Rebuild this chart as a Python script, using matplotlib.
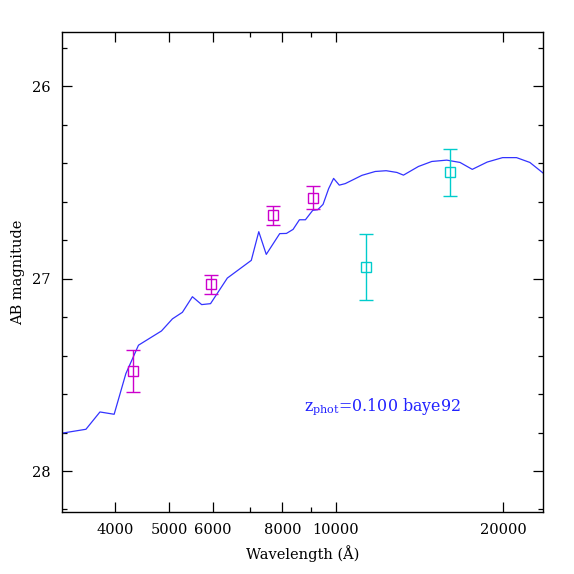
import numpy as np
import matplotlib
matplotlib.use('Agg')
import matplotlib.pyplot as plt
from matplotlib.ticker import FixedLocator

plt.rcParams['mathtext.fontset'] = 'dejavuserif'

# model spectrum (blue line)
model_wl = [3100, 3540, 3752, 3980, 4178, 4403, 4844, 5070, 5284, 5508, 5724,
            5939, 6368, 7034, 7256, 7485, 7915, 8139, 8367, 8590, 8807, 9078,
            9266, 9476, 9699, 9900, 10137, 10392, 11138, 11768, 12316, 12875,
            13232, 14081, 14884, 15837, 16734, 17608, 18737, 19971, 21161,
            22365, 23626, 24500]
model_mag = [27.81, 27.783, 27.693, 27.705, 27.494, 27.346, 27.272, 27.209,
             27.175, 27.094, 27.135, 27.130, 26.997, 26.905, 26.756, 26.874,
             26.766, 26.765, 26.744, 26.694, 26.694, 26.645, 26.642, 26.614,
             26.532, 26.479, 26.514, 26.506, 26.463, 26.443, 26.439, 26.448,
             26.462, 26.417, 26.391, 26.384, 26.396, 26.432, 26.394, 26.371,
             26.371, 26.396, 26.451, 26.50]

# observed photometry
opt_wl = [4310, 5944, 7689, 9091]
opt_mag = [27.48, 27.03, 26.67, 26.58]
opt_err = [0.11, 0.05, 0.05, 0.06]

nir_wl = [11339, 16080]
nir_mag = [26.94, 26.448]
nir_err = [0.17, 0.12]

xticks = [4000, 5000, 6000, 8000, 10000, 20000]
xminor = [7000, 9000]

FONT = 'DejaVu Serif'

fig = plt.figure(figsize=(5.74, 5.74), dpi=100)
ax = fig.add_axes([62 / 574, 1 - 512 / 574, 481 / 574, 480 / 574])

ax.plot(model_wl, model_mag, '-', color='#3333ff', lw=0.9)
ax.errorbar(opt_wl, opt_mag, yerr=opt_err, fmt='s', mfc='none', mec='#cc00cc',
            ecolor='#cc00cc', ms=6.5, mew=1.0, elinewidth=1.0, capsize=4.7, capthick=1.0)
ax.errorbar(nir_wl, nir_mag, yerr=nir_err, fmt='s', mfc='none', mec='#00cccc',
            ecolor='#00cccc', ms=6.5, mew=1.0, elinewidth=1.0, capsize=4.7, capthick=1.0)

ax.set_xscale('log')
ax.set_xlim(3205, 23620)
ax.set_ylim(28.213, 25.718)

ax.set_xticks(xticks)
ax.set_xticklabels([str(v) for v in xticks])
ax.xaxis.set_minor_locator(FixedLocator(xminor))

ax.set_yticks([26, 27, 28])
ax.set_yticklabels(['26', '27', '28'])
ax.yaxis.set_minor_locator(FixedLocator(np.arange(25.8, 28.21, 0.2)))

ax.tick_params(which='both', direction='in', top=True, right=True, width=0.9,
               labelsize=10.5, pad=8)
ax.tick_params(which='major', length=7.2)
ax.tick_params(which='minor', length=3.6)
for lab in ax.get_xticklabels() + ax.get_yticklabels():
    lab.set_family(FONT)
for s in ax.spines.values():
    s.set_linewidth(1.0)

ax.set_xlabel('Wavelength (Å)', family=FONT, fontsize=10.5, labelpad=6)
ax.set_ylabel('AB magnitude', family=FONT, fontsize=10.5, labelpad=5)

ax.text(8769, 27.684, r'z$_{\rm phot}$=0.100 baye92', color='#2222ff',
        family=FONT, fontsize=11.4, va='baseline', ha='left')

fig.savefig('out.png', dpi=100)
